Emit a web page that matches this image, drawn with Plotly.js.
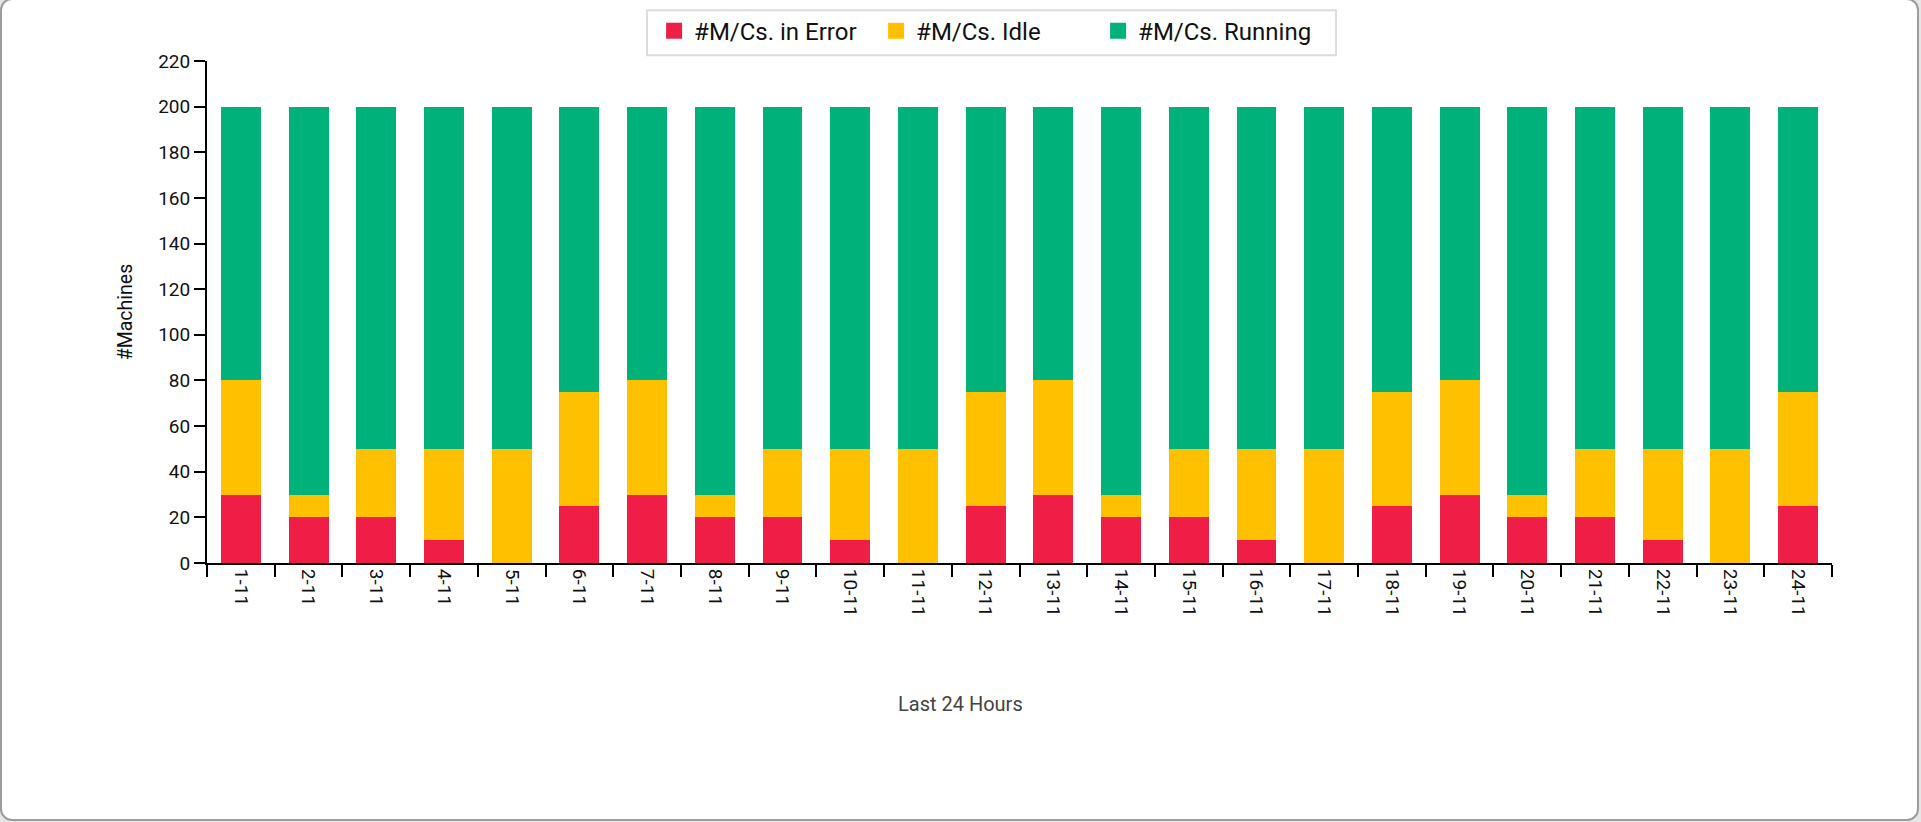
<!DOCTYPE html>
<html>
<head>
<meta charset="utf-8">
<script src="https://cdn.plot.ly/plotly-3.0.1.min.js"></script>
<style>
  html, body { margin: 0; padding: 0; width: 1921px; height: 822px; overflow: hidden; background: #e6e6e6; }
  #frame { position: absolute; left: 0; top: -2px; width: 1915px; height: 819px; border: 2px solid #9c9c9c; border-radius: 12px; background: #ffffff; }
  #chart { position: absolute; left: 0; top: 0; width: 1921px; height: 822px; }
</style>
</head>
<body>
<div id="frame"></div>
<div id="chart"></div>
<script>
const categories = ["1-11","2-11","3-11","4-11","5-11","6-11","7-11","8-11","9-11","10-11","11-11","12-11",
                    "13-11","14-11","15-11","16-11","17-11","18-11","19-11","20-11","21-11","22-11","23-11","24-11"];
const errorValues   = [30,20,20,10,0,25,30,20,20,10,0,25,30,20,20,10,0,25,30,20,20,10,0,25];
const idleValues    = [50,10,30,40,50,50,50,10,30,40,50,50,50,10,30,40,50,50,50,10,30,40,50,50];
const runningValues = [120,170,150,150,150,125,120,170,150,150,150,125,120,170,150,150,150,125,120,170,150,150,150,125];
const seriesNames = ["#M/Cs. in Error", "#M/Cs. Idle", "#M/Cs. Running"];
const seriesColors = ["#ee1e46", "#ffc000", "#00b27a"];
const yTickValues = [0,20,40,60,80,100,120,140,160,180,200,220];
const xTitle = "Last 24 Hours";
const yTitle = "#Machines";

const seriesValues = [errorValues, idleValues, runningValues];
const traces = [];
seriesValues.forEach((vals, i) => {
  traces.push({
    type: "bar", x: categories, y: vals, name: seriesNames[i],
    marker: { color: seriesColors[i] }, showlegend: false, hoverinfo: "skip"
  });
});
// legend-only entries with larger square symbols
seriesNames.forEach((n, i) => {
  traces.push({
    type: "scatter", mode: "markers", x: [null], y: [null], name: n,
    marker: { color: seriesColors[i], symbol: "square", size: 16 }, showlegend: true, hoverinfo: "skip"
  });
});

const layout = {
  width: 1921, height: 822,
  paper_bgcolor: "rgba(0,0,0,0)", plot_bgcolor: "rgba(0,0,0,0)",
  font: { family: "Roboto, sans-serif", color: "#111" },
  barmode: "stack", bargap: 0.41,
  margin: { l: 207, r: 89, t: 61, b: 259, pad: 0 },
  showlegend: true,
  legend: {
    orientation: "h", xref: "container", yref: "container",
    x: 0.3405, xanchor: "left", y: 0.9895, yanchor: "top",
    bgcolor: "rgba(0,0,0,0)", borderwidth: 0,
    font: { family: "Roboto, sans-serif", size: 24, color: "#111" },
    itemsizing: "trace", entrywidth: 177, traceorder: "normal"
  },
  shapes: [{
    type: "rect", xref: "paper", yref: "paper", layer: "above",
    x0: 0.2708, x1: 0.6948, y0: 1.0114, y1: 1.101,
    line: { color: "#dcdcdc", width: 2 }, fillcolor: "rgba(0,0,0,0)"
  }],
  xaxis: {
    type: "category", categoryarray: categories, categoryorder: "array",
    showline: true, linecolor: "#000", linewidth: 2,
    ticks: "outside", tickson: "boundaries", ticklen: 12, tickwidth: 2, tickcolor: "#000",
    tickangle: 90, tickfont: { size: 19, color: "#111" },
    showgrid: false, zeroline: false, fixedrange: true
  },
  yaxis: {
    range: [0, 220], tickvals: yTickValues,
    showline: true, linecolor: "#000", linewidth: 2,
    ticks: "outside", ticklen: 11, tickwidth: 2, tickcolor: "#000",
    tickfont: { size: 19, color: "#111" },
    showgrid: false, zeroline: false, fixedrange: true,
    title: { text: yTitle, font: { size: 19.5, color: "#111" }, standoff: 20 }
  },
  annotations: [{
    text: xTitle, xref: "paper", yref: "paper", x: 0.4634, y: -0.2815,
    xanchor: "center", yanchor: "middle", showarrow: false,
    font: { family: "Roboto, sans-serif", size: 20, color: "#444" }
  }]
};

Plotly.newPlot("chart", traces, layout, { displayModeBar: false, staticPlot: true });
</script>
</body>
</html>
